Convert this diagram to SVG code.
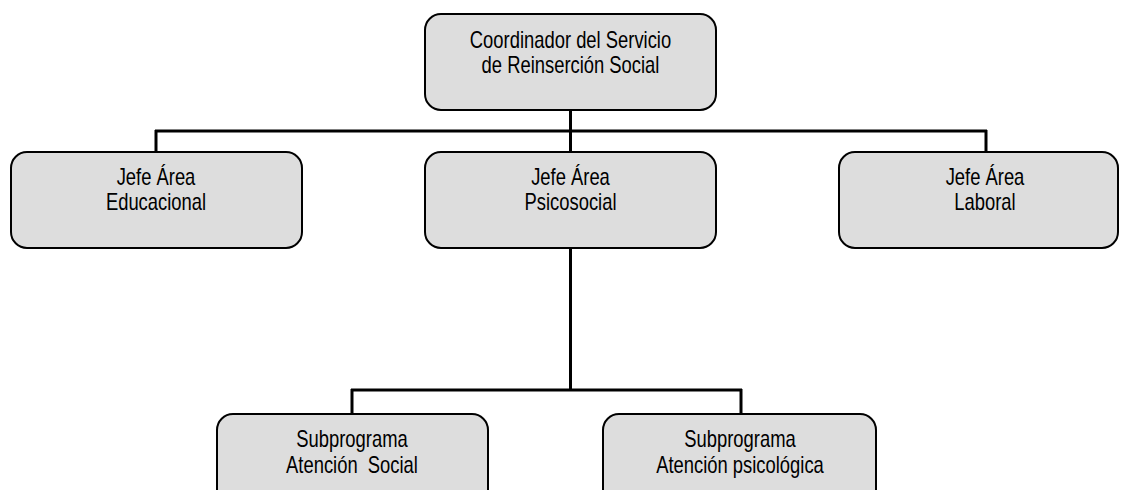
<svg xmlns="http://www.w3.org/2000/svg" width="1121" height="490" viewBox="0 0 1121 490">
<style>
.box{fill:#dddddd;stroke:#000;stroke-width:2}
.t{font-family:"Liberation Sans",Arial,sans-serif;font-size:23px;fill:#000;text-anchor:middle}
.c{stroke:#000;stroke-width:3;fill:none}
</style>
<rect width="1121" height="490" fill="#fff"/>
<g id="connectors">
<line class="c" x1="570.5" y1="110" x2="570.5" y2="152"/>
<line class="c" x1="155" y1="131" x2="987" y2="131"/>
<line class="c" x1="156" y1="130" x2="156" y2="152"/>
<line class="c" x1="986" y1="130" x2="986" y2="152"/>
<line class="c" x1="570.5" y1="248" x2="570.5" y2="390"/>
<line class="c" x1="351" y1="390" x2="742" y2="390"/>
<line class="c" x1="352" y1="389" x2="352" y2="414"/>
<line class="c" x1="741" y1="389" x2="741" y2="414"/>
</g>
<g id="coordinador">
<rect class="box" x="425" y="14" width="291" height="96" rx="16"/>
<text class="t" transform="translate(570.5,0) scale(0.8,1)" x="0" y="48">Coordinador del Servicio</text>
<text class="t" transform="translate(570.5,0) scale(0.8,1)" x="0" y="73">de Reinserción Social</text>
</g>
<g id="educacional">
<rect class="box" x="11" y="152" width="291" height="96" rx="16"/>
<text class="t" transform="translate(156,0) scale(0.8,1)" x="0" y="185">Jefe Área</text>
<text class="t" transform="translate(156,0) scale(0.8,1)" x="0" y="210">Educacional</text>
</g>
<g id="psicosocial">
<rect class="box" x="425" y="152" width="291" height="96" rx="16"/>
<text class="t" transform="translate(570.5,0) scale(0.8,1)" x="0" y="185">Jefe Área</text>
<text class="t" transform="translate(570.5,0) scale(0.8,1)" x="0" y="210">Psicosocial</text>
</g>
<g id="laboral">
<rect class="box" x="839" y="152" width="279" height="96" rx="16"/>
<text class="t" transform="translate(985,0) scale(0.8,1)" x="0" y="185">Jefe Área</text>
<text class="t" transform="translate(985,0) scale(0.8,1)" x="0" y="210">Laboral</text>
</g>
<g id="social">
<rect class="box" x="217" y="414" width="271" height="96" rx="16"/>
<text class="t" transform="translate(352,0) scale(0.8,1)" x="0" y="447">Subprograma</text>
<text class="t" transform="translate(352,0) scale(0.8,1)" x="0" y="473" xml:space="preserve">Atención  Social</text>
</g>
<g id="psicologica">
<rect class="box" x="603" y="414" width="273" height="96" rx="16"/>
<text class="t" transform="translate(740,0) scale(0.8,1)" x="0" y="447">Subprograma</text>
<text class="t" transform="translate(740,0) scale(0.8,1)" x="0" y="473">Atención psicológica</text>
</g>
</svg>
